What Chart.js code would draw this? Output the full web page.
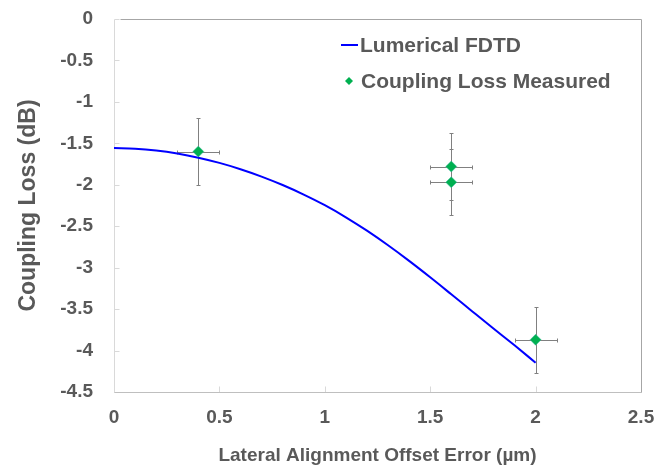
<!DOCTYPE html>
<html><head><meta charset="utf-8">
<script src="https://cdn.jsdelivr.net/npm/chart.js@4.4.0/dist/chart.umd.min.js"></script>
<style>html,body{margin:0;padding:0;background:#fff;}#wrap{width:657px;height:468px;position:relative;}</style>
</head><body><div id="wrap"><canvas id="c" width="657" height="468"></canvas></div>
<script>
// ---- data ----
const simX = [0,0.1,0.2,0.3,0.4,0.5,0.6,0.7,0.8,0.9,1.0,1.1,1.2,1.3,1.4,1.5,1.6,1.7,1.8,1.9,2.0];
const simY = [-1.557,-1.565,-1.587,-1.623,-1.673,-1.736,-1.812,-1.901,-2.003,-2.118,-2.246,-2.392,-2.554,-2.730,-2.918,-3.116,-3.321,-3.528,-3.734,-3.937,-4.146];
const measX = [0.4, 1.6, 1.6, 2.0];
const measY = [-1.60, -1.78, -1.97, -3.87];
const measXErr = [0.1, 0.1, 0.1, 0.1];
const measYErr = [0.4, 0.4, 0.4, 0.4];
const xTicks = [0, 0.5, 1, 1.5, 2, 2.5];
const yTicks = [0, -0.5, -1, -1.5, -2, -2.5, -3, -3.5, -4, -4.5];
const seriesNames = ['Lumerical FDTD', 'Coupling Loss Measured'];
const xTitle = 'Lateral Alignment Offset Error (µm)';
const yTitle = 'Coupling Loss (dB)';

const FONT = '"Liberation Sans", Arial, sans-serif';
const TXT = '#595959';
const BLUE = '#0000FF';
const GREEN = '#00B050';

const errorBars = {
  id: 'errorBars',
  beforeDatasetsDraw(chart) {
    const {ctx, scales: {x, y}} = chart;
    ctx.save();
    ctx.strokeStyle = '#808080';
    ctx.lineWidth = 1;
    const cap = 2;
    for (let i = 0; i < measX.length; i++) {
      const px = Math.round(x.getPixelForValue(measX[i])) + 0.5;
      const py = Math.round(y.getPixelForValue(measY[i])) + 0.5;
      const xl = Math.round(x.getPixelForValue(measX[i] - measXErr[i])) + 0.5;
      const xr = Math.round(x.getPixelForValue(measX[i] + measXErr[i])) + 0.5;
      const yt = Math.round(y.getPixelForValue(measY[i] + measYErr[i])) + 0.5;
      const yb = Math.round(y.getPixelForValue(measY[i] - measYErr[i])) + 0.5;
      ctx.beginPath();
      ctx.moveTo(xl, py); ctx.lineTo(xr, py);
      ctx.moveTo(xl, py - cap); ctx.lineTo(xl, py + cap);
      ctx.moveTo(xr, py - cap); ctx.lineTo(xr, py + cap);
      ctx.moveTo(px, yt); ctx.lineTo(px, yb);
      ctx.moveTo(px - cap, yt); ctx.lineTo(px + cap, yt);
      ctx.moveTo(px - cap, yb); ctx.lineTo(px + cap, yb);
      ctx.stroke();
    }
    ctx.restore();
  }
};

const frame = {
  id: 'frame',
  beforeDatasetsDraw(chart) {
    const {ctx, chartArea: a, scales: {x, y}} = chart;
    ctx.save();
    ctx.lineWidth = 1;
    const L = Math.round(a.left) + 0.5, R = Math.round(a.right) + 0.5;
    const T = Math.round(a.top) + 0.5, B = Math.round(a.bottom) + 0.5;
    ctx.strokeStyle = '#d9d9d9';
    ctx.beginPath();
    yTicks.forEach(v => { const py = Math.round(y.getPixelForValue(v)) + 0.5; ctx.moveTo(L, py); ctx.lineTo(L + 5, py); });
    xTicks.forEach(v => { const px = Math.round(x.getPixelForValue(v)) + 0.5; ctx.moveTo(px, B); ctx.lineTo(px, B - 6); });
    ctx.stroke();
    ctx.strokeStyle = '#d9d9d9';
    ctx.beginPath(); ctx.moveTo(L, T); ctx.lineTo(L, B); ctx.stroke();
    ctx.strokeStyle = '#bfbfbf';
    ctx.beginPath(); ctx.moveTo(L, B); ctx.lineTo(R, B); ctx.stroke();
    ctx.strokeStyle = '#a6a6a6';
    ctx.beginPath(); ctx.moveTo(L + 6, T); ctx.lineTo(R, T); ctx.lineTo(R, B); ctx.stroke();
    ctx.restore();
  }
};

const legendPlugin = {
  id: 'customLegend',
  afterDraw(chart) {
    const {ctx} = chart;
    ctx.save();
    ctx.font = 'bold 21px ' + FONT;
    ctx.fillStyle = TXT;
    ctx.textBaseline = 'middle';
    ctx.textAlign = 'left';
    ctx.strokeStyle = BLUE; ctx.lineWidth = 2;
    ctx.beginPath(); ctx.moveTo(341, 45); ctx.lineTo(358, 45); ctx.stroke();
    ctx.fillText(seriesNames[0], 360, 46);
    ctx.fillStyle = GREEN;
    ctx.beginPath(); ctx.moveTo(349, 77); ctx.lineTo(353, 81); ctx.lineTo(349, 85); ctx.lineTo(345, 81); ctx.closePath(); ctx.fill();
    ctx.fillStyle = TXT;
    ctx.fillText(seriesNames[1], 361, 82);
    ctx.restore();
  }
};

new Chart(document.getElementById('c'), {
  type: 'scatter',
  data: {
    datasets: [
      {
        label: seriesNames[1],
        data: measX.map((v, i) => ({x: v, y: measY[i]})),
        pointStyle: 'rectRot',
        pointRadius: 5.5,
        pointBackgroundColor: GREEN,
        pointBorderColor: '#3cb6a0',
        pointBorderWidth: 0.5,
        showLine: false,
        order: 0
      },
      {
        label: seriesNames[0],
        data: simX.map((v, i) => ({x: v, y: simY[i]})),
        showLine: true,
        borderColor: BLUE,
        borderWidth: 2,
        pointRadius: 0,
        cubicInterpolationMode: 'monotone',
        fill: false,
        order: 1
      }
    ]
  },
  options: {
    responsive: false,
    animation: false,
    devicePixelRatio: 1,
    layout: {padding: {left: 0, right: 16, top: 19, bottom: 0}},
    plugins: {legend: {display: false}, tooltip: {enabled: false}},
    scales: {
      x: {
        type: 'linear', min: 0, max: 2.5,
        afterBuildTicks: s => { s.ticks = xTicks.map(v => ({value: v})); },
        afterFit: s => { s.height = 76; s.paddingLeft = 0; s.paddingRight = 0; },
        grid: {display: false, drawTicks: false},
        border: {display: false},
        ticks: {color: TXT, font: {family: FONT, size: 19, weight: 'bold'}, padding: 14, maxRotation: 0, callback: v => String(v)},
        title: {display: true, text: xTitle, color: TXT, font: {family: FONT, size: 19, weight: 'bold'}, padding: {top: 0, bottom: 1}}
      },
      y: {
        type: 'linear', min: -4.5, max: 0,
        afterBuildTicks: s => { s.ticks = yTicks.map(v => ({value: v})); },
        afterFit: s => { s.width = 114; s.paddingTop = 0; s.paddingBottom = 0; },
        grid: {display: false, drawTicks: false},
        border: {display: false},
        ticks: {color: TXT, font: {family: FONT, size: 19, weight: 'bold'}, padding: 21, callback: v => String(v)},
        title: {display: true, text: yTitle, color: TXT, font: {family: FONT, size: 23, weight: 'bold'}, padding: {top: 15, bottom: 0}}
      }
    }
  },
  plugins: [errorBars, frame, legendPlugin]
});
</script>
</body></html>
